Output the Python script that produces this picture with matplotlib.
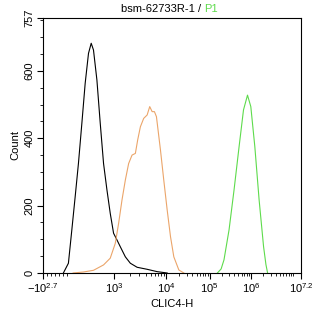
import numpy as np
import matplotlib
matplotlib.use("Agg")
import matplotlib.pyplot as plt

plt.rcParams['font.family'] = ['Liberation Sans', 'DejaVu Sans']
plt.rcParams['mathtext.fontset'] = 'custom'
plt.rcParams['mathtext.rm'] = 'Liberation Sans'

# histogram outlines (fluorescence intensity, count)
control_x = [-72, 34, 106, 176, 245, 317, 387, 457, 514, 562, 634, 704, 774, 846,
             915, 985, 1127, 1304, 1629, 2030, 2737, 4259, 6630, 10380]
control_y = [0, 29, 128, 226, 325, 444, 563, 652, 682, 662, 573, 445, 325, 246,
             177, 118, 98, 78, 48, 29, 17, 11, 4, 0]

isotype_x = [133, 351, 562, 774, 915, 1045, 1210, 1406, 1629, 1884, 2188, 2535,
             2807, 3162, 3659, 4259, 4775, 5309, 5878, 6423, 7670, 8870, 10380,
             12390, 14790, 19330, 25240]
isotype_y = [0, 3, 8, 24, 44, 88, 147, 217, 276, 325, 350, 355, 395, 434, 459,
             469, 494, 479, 479, 464, 365, 276, 187, 108, 48, 9, 0]

p1_x = [1.54e5, 1.9e5, 2.23e5, 2.96e5, 3.91e5, 5.19e5, 6.64e5, 8.31e5, 1.0e6,
        1.248e6, 1.58e6, 2.02e6, 2.3e6, 2.52e6]
p1_y = [0, 12, 39, 128, 246, 375, 484, 528, 494, 375, 217, 78, 25, 0]

x_ticks = [-10 ** 2.7, 1e3, 1e4, 1e5, 1e6, 10 ** 7.2]
x_labels = [r'$\mathregular{-10^{2.7}}$', r'$\mathregular{10^{3}}$', r'$\mathregular{10^{4}}$',
            r'$\mathregular{10^{5}}$', r'$\mathregular{10^{6}}$', r'$\mathregular{10^{7.2}}$']
y_ticks = [0, 200, 400, 600, 757]

# display scale: linear below 1e3, log above
DEC = [3, 4, 5, 6, 7.2, 9]
PIX = [114, 166, 209, 250, 300, 383]
K = 71 / 1501


def fwd(x):
    x = np.asarray(x, float)
    lin = 114 + (x - 1000) * K
    lg = np.interp(np.log10(np.maximum(x, 1000)), DEC, PIX)
    return np.where(x < 1000, lin, lg)


def inv(p):
    p = np.asarray(p, float)
    lin = 1000 + (p - 114) / K
    lg = 10 ** np.interp(p, PIX, DEC)
    return np.where(p < 114, lin, lg)


fig = plt.figure(figsize=(3.14, 3.17), dpi=100)
ax = fig.add_axes([43 / 314, 44 / 317, 258 / 314, 255 / 317])
ax.set_xscale('function', functions=(fwd, inv))

ax.plot(control_x, control_y, color='black', lw=0.8)
ax.plot(isotype_x, isotype_y, color='#EBA56A', lw=0.8)
ax.plot(p1_x, p1_y, color='#5EDB4C', lw=0.8)

ax.set_xlim(-10 ** 2.7, 10 ** 7.2)
ax.set_ylim(0, 757)

ax.set_xticks(x_ticks)
ax.set_xticklabels(x_labels)
minors = list(np.linspace(-500, 0, 7))
for d in [3, 4, 5, 6]:
    minors += [m * 10 ** d for m in range(2, 10)]
minors += [1e7]
ax.set_xticks(minors, minor=True)

ax.set_yticks(y_ticks)
ax.set_yticks(np.arange(50, 757, 50), minor=True)
for lab in ax.get_yticklabels():
    lab.set_rotation(90)
    lab.set_va('center')

ax.tick_params(which='major', length=4, width=0.8, labelsize=8, pad=2)
ax.tick_params(which='minor', length=2, width=0.6)
for s in ax.spines.values():
    s.set_linewidth(0.8)

ax.set_xlabel('CLIC4-H', fontsize=8, labelpad=3)
ax.set_ylabel('Count', fontsize=8, labelpad=3)

fig.text(204 / 314, 1 - 9 / 317, 'bsm-62733R-1 / ', ha='right', va='center', fontsize=8)
fig.text(204 / 314, 1 - 9 / 317, 'P1', ha='left', va='center', fontsize=8, color='#5EDB4C')

fig.savefig('out.png', dpi=100)
